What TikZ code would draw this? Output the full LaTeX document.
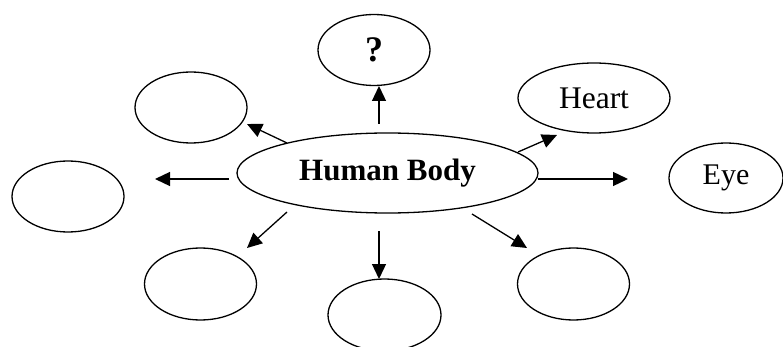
\documentclass[tikz,border=0pt]{standalone}
\usepackage{fontspec}
\setmainfont{Liberation Serif}
\usetikzlibrary{shapes.geometric,arrows.meta}
\begin{document}
\begin{tikzpicture}[x=1pt,y=-1pt,
  bub/.style={ellipse,draw,line width=1.3pt,inner sep=0pt,minimum width=112pt,minimum height=71pt,font=\fontsize{30}{34}\selectfont},
  conn/.style={line width=1.3pt,-{Triangle[length=15pt,width=14pt]}}]
\useasboundingbox (0,0) rectangle (783,347);
\node[bub,minimum width=301pt,minimum height=80pt,font=\fontsize{31}{34}\selectfont\bfseries] (c) at (387.5,173) {Human Body};
\node[bub,font=\fontsize{36}{40}\selectfont\bfseries] (q) at (374,50) {?};
\node[bub] (tl) at (191,107.5) {};
\node[bub,minimum width=152pt,minimum height=70pt,font=\fontsize{31.5}{34}\selectfont] (heart) at (594,98) {Heart};
\node[bub,minimum width=114pt,minimum height=70pt] (eye) at (726,178) {Eye};
\node[bub] (l) at (68,196.5) {};
\node[bub,minimum height=72pt] (bl) at (200.5,284) {};
\node[bub,minimum width=113pt,minimum height=72pt] (b) at (384.5,315) {};
\node[bub,minimum height=72pt] (br) at (573.5,284) {};
\coordinate (s1) at (379,124); \coordinate (e1) at (379,86);
\coordinate (s2) at (287,143); \coordinate (e2) at (247,124);
\coordinate (s3) at (229,179); \coordinate (e3) at (155,179);
\coordinate (s4) at (287,212); \coordinate (e4) at (247,248);
\coordinate (s5) at (379,231); \coordinate (e5) at (379,279);
\coordinate (s6) at (472,214); \coordinate (e6) at (527,248);
\coordinate (s7) at (538,179); \coordinate (e7) at (628,179);
\coordinate (s8) at (518,152); \coordinate (e8) at (557,135);
\foreach \i in {1,...,8} { \draw[conn] (s\i) -- (e\i); }
\end{tikzpicture}
\end{document}
